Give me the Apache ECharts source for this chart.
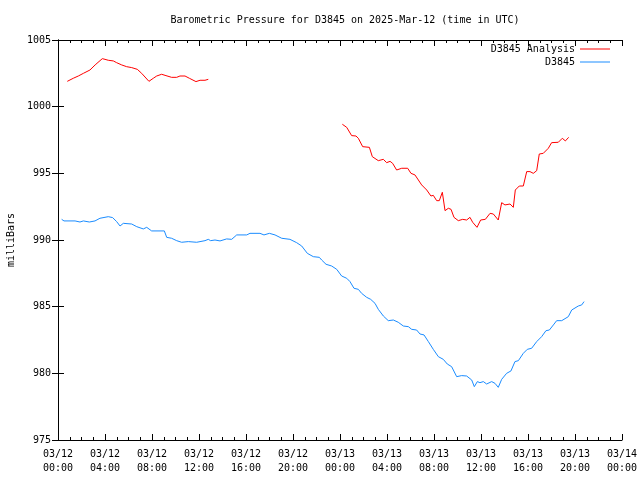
<!DOCTYPE html>
<html><head><meta charset="utf-8">
<script src="https://cdn.jsdelivr.net/npm/echarts@6/dist/echarts.min.js"></script>
<style>html,body{margin:0;padding:0;background:#fff}#c{width:640px;height:480px}</style>
</head><body><div id="c"></div>
<script>
// hours since 2025-03-12 00:00 UTC
const analysisHours = [0.79,1.30,1.73,2.16,2.72,3.16,3.77,4.0,4.28,4.71,4.99,5.42,5.84,6.27,6.75,7.12,7.74,8.11,8.40,8.82,9.11,9.67,10.1,10.38,10.81,11.18,11.74,12.09,12.51,12.79,
 18.0,
 24.2,24.57,24.99,25.36,25.56,25.93,26.5,26.75,27.26,27.69,27.97,28.26,28.48,28.82,29.25,29.76,30.04,30.38,30.67,30.95,31.38,31.74,31.94,32.23,32.45,32.71,32.94,33.22,33.45,33.7,34.07,34.44,34.78,35.06,35.29,35.66,35.97,36.37,36.77,37.05,37.47,37.76,38.04,38.47,38.75,38.92,39.26,39.6,39.89,40.17,40.45,40.74,40.96,41.3,41.73,42.01,42.58,42.92,43.18,43.46];
const analysisValues = [1001.9,1002.13,1002.3,1002.5,1002.75,1003.13,1003.6,1003.55,1003.48,1003.43,1003.3,1003.13,1003.0,1002.93,1002.8,1002.5,1001.9,1002.13,1002.3,1002.43,1002.35,1002.2,1002.2,1002.3,1002.3,1002.13,1001.88,1001.98,1001.98,1002.05,
 null,
 998.68,998.45,997.83,997.8,997.63,997.0,996.95,996.25,995.95,996.05,995.8,995.9,995.75,995.25,995.38,995.38,995.0,994.88,994.5,994.13,993.75,993.3,993.35,992.95,992.95,993.58,992.2,992.38,992.3,991.7,991.45,991.55,991.5,991.7,991.33,990.95,991.5,991.55,992.0,991.95,991.5,992.8,992.63,992.7,992.45,993.75,994.05,994.05,995.13,995.13,995.0,995.2,996.45,996.5,996.88,997.3,997.33,997.63,997.43,997.7];
const stationHours = [0.31,0.51,1.45,1.87,2.16,2.67,3.15,3.57,4.28,4.65,4.99,5.28,5.56,6.27,6.7,7.26,7.55,7.97,9.05,9.25,9.67,10.1,10.52,11.09,11.8,12.51,12.79,12.99,13.36,13.79,14.35,14.78,15.21,16.06,16.34,17.19,17.53,17.99,18.47,19.04,19.74,20.31,20.74,21.22,21.73,22.24,22.44,22.81,23.29,23.72,24.14,24.57,24.85,25.19,25.56,25.84,26.27,26.61,26.98,27.26,27.69,28.11,28.54,28.96,29.39,29.82,30.1,30.52,30.81,31.15,31.52,31.94,32.37,32.79,33.13,33.5,33.93,34.35,34.78,35.21,35.43,35.69,35.91,36.2,36.48,36.91,37.19,37.47,37.76,38.18,38.55,38.89,39.18,39.6,39.94,40.31,40.74,41.16,41.53,41.82,42.16,42.44,42.87,43.43,43.72,44.28,44.57,44.77];
const stationValues = [991.55,991.43,991.43,991.35,991.43,991.35,991.43,991.63,991.75,991.68,991.38,991.05,991.25,991.2,991.0,990.83,990.95,990.68,990.68,990.2,990.13,989.95,989.83,989.88,989.83,989.95,990.05,989.95,990.0,989.93,990.08,990.05,990.38,990.38,990.5,990.5,990.38,990.5,990.38,990.13,990.05,989.8,989.55,989.0,988.75,988.7,988.5,988.18,988.05,987.8,987.3,987.13,986.88,986.38,986.3,986.0,985.7,985.55,985.25,984.8,984.3,983.95,984.0,983.83,983.55,983.5,983.3,983.25,982.95,982.88,982.38,981.8,981.25,981.05,980.7,980.5,979.75,979.83,979.8,979.5,979.0,979.38,979.3,979.38,979.2,979.38,979.25,978.95,979.55,980.0,980.18,980.88,980.95,981.5,981.8,981.88,982.38,982.75,983.2,983.25,983.63,983.95,983.95,984.25,984.75,985.05,985.13,985.38];
const seriesNames = ['D3845 Analysis','D3845'];
const titleText = 'Barometric Pressure for D3845 on 2025-Mar-12 (time in UTC)';
const yAxisName = 'milliBars';

const FONT = 'DejaVu Sans Mono';
function fmtX(v){
  const day = 12 + Math.floor(v/24);
  const hr = v % 24;
  return '03/' + day + '\n' + (hr<10?'0':'') + hr + ':00';
}
const pairs = (h,v)=>h.map((x,i)=>[x,v[i]]);
const chart = echarts.init(document.getElementById('c'), null, {renderer:'canvas'});
const axisCommon = {
  axisLine:{show:true,lineStyle:{color:'#000',width:1}},
  axisTick:{show:true,inside:true,length:6,lineStyle:{color:'#000'}},
  splitLine:{show:false}
};
chart.setOption({
  animation:false,
  backgroundColor:'#fff',
  title:{text:titleText,left:340,top:10,textAlign:'center',
    textStyle:{fontFamily:FONT,fontSize:10,fontWeight:'normal',color:'#000'}},
  legend:[
    {data:[seriesNames[0]],right:30,top:44,padding:0,orient:'vertical',align:'right',icon:'rect',itemWidth:30,itemHeight:1,
     textStyle:{fontFamily:FONT,fontSize:10,color:'#000'}},
    {data:[seriesNames[1]],right:30,top:57,padding:0,orient:'vertical',align:'right',icon:'rect',itemWidth:30,itemHeight:1,
     textStyle:{fontFamily:FONT,fontSize:10,color:'#000'}}
  ],
  grid:{left:58,right:18,top:40,bottom:40,containLabel:false,outerBoundsMode:'none'},
  xAxis:[
    Object.assign({type:'value',min:0,max:48,interval:4,position:'bottom',
      minorTick:{show:true,splitNumber:4,length:3,lineStyle:{color:'#000'}},
      axisLabel:{formatter:fmtX,fontFamily:FONT,fontSize:10,color:'#000',lineHeight:14,margin:7,showMaxLabel:true,showMinLabel:true}},axisCommon),
    Object.assign({type:'value',min:0,max:48,interval:4,position:'top',
      minorTick:{show:true,splitNumber:4,length:3,lineStyle:{color:'#000'}},
      axisLabel:{show:false}},axisCommon)
  ],
  yAxis:[
    Object.assign({type:'value',min:975,max:1005,interval:5,position:'left',
      name:yAxisName,nameLocation:'middle',nameGap:40,nameRotate:90,
      nameTextStyle:{fontFamily:FONT,fontSize:10,color:'#000'},
      axisLabel:{formatter:v=>String(v),fontFamily:FONT,fontSize:10,color:'#000',margin:7}},axisCommon),
    Object.assign({type:'value',min:975,max:1005,interval:5,position:'right',
      axisLabel:{show:false}},axisCommon)
  ],
  series:[
    {name:seriesNames[0],type:'line',data:pairs(analysisHours,analysisValues),showSymbol:false,symbol:'none',
     connectNulls:false,color:'#ff0000',lineStyle:{width:1,color:'#ff0000'}},
    {name:seriesNames[1],type:'line',data:pairs(stationHours,stationValues),showSymbol:false,symbol:'none',
     color:'#1a8cff',lineStyle:{width:1,color:'#1a8cff'}}
  ]
});
</script></body></html>
